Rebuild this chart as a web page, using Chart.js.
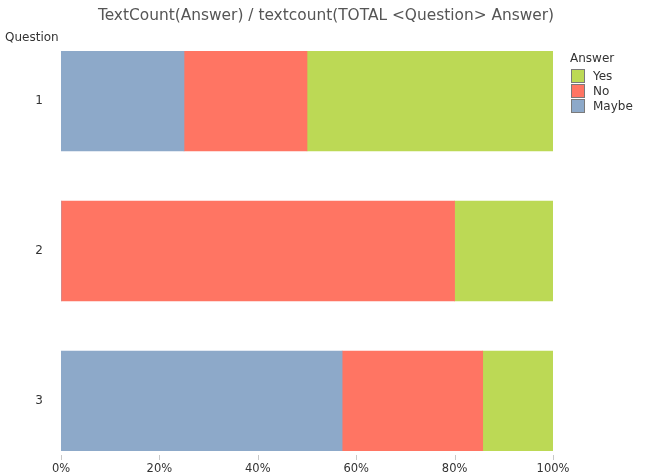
<!DOCTYPE html>
<html>
<head>
<meta charset="utf-8">
<script src="https://cdn.jsdelivr.net/npm/chart.js@4/dist/chart.umd.min.js"></script>
<style>
  html, body { margin: 0; padding: 0; background: #fff; }
  #wrap { position: relative; width: 651px; height: 475px; }
  #legend { position: absolute; left: 570px; top: 51px; font: 12px "DejaVu Sans", sans-serif; color: #333; }
  #legend .t { margin-bottom: 3px; line-height: 14px; }
  #legend .row { display: flex; align-items: center; height: 15px; }
  #legend .box { width: 14px; height: 14px; border: 1px solid #7a7a7a; box-sizing: border-box; margin-left: 1px; margin-right: 8px; }
</style>
</head>
<body>
<div id="wrap">
  <canvas id="c" width="651" height="475"></canvas>
  <div id="legend"></div>
</div>
<script>
const chartTitle = "TextCount(Answer) / textcount(TOTAL <Question> Answer)";
const axisTitle = "Question";
const legendTitle = "Answer";
const questions = [1, 2, 3];
const seriesNames = ["Maybe", "No", "Yes"];
const maybeValues = [25, 0, 57.14];
const noValues = [25, 80, 28.57];
const yesValues = [50, 20, 14.29];
const xTicks = [0, 20, 40, 60, 80, 100];
const colors = { Maybe: "#8DA9C9", No: "#FF7563", Yes: "#BCD955" };

const valueSets = { Maybe: maybeValues, No: noValues, Yes: yesValues };
const datasets = seriesNames.map(name => ({
  label: name,
  data: questions.map((q, i) => ({ x: valueSets[name][i], y: q })),
  backgroundColor: colors[name],
  borderWidth: 0,
  barThickness: 100
}));

// HTML legend (Yes, No, Maybe order)
const lg = document.getElementById('legend');
let html = '<div class="t">' + legendTitle + '</div>';
["Yes", "No", "Maybe"].forEach(n => {
  html += '<div class="row"><div class="box" style="background:' + colors[n] + '"></div><span>' + n + '</span></div>';
});
lg.innerHTML = html;

const textPlugin = {
  id: 'texts',
  afterDraw(chart) {
    const ctx = chart.ctx;
    ctx.save();
    ctx.fillStyle = '#555';
    ctx.font = '15.4px "DejaVu Sans"';
    ctx.textAlign = 'center';
    ctx.textBaseline = 'middle';
    ctx.fillText(chartTitle, 326, 16);
    ctx.fillStyle = '#333';
    ctx.font = '12px "DejaVu Sans"';
    ctx.textAlign = 'left';
    ctx.fillText(axisTitle, 5, 38);
    // x tick marks
    const xs = chart.scales.x;
    ctx.strokeStyle = '#c8c8c8';
    ctx.lineWidth = 1;
    xTicks.forEach(v => {
      const px = Math.round(xs.getPixelForValue(v)) + 0.5;
      ctx.beginPath();
      ctx.moveTo(px, 455);
      ctx.lineTo(px, 460);
      ctx.stroke();
    });
    ctx.restore();
  }
};

new Chart(document.getElementById('c'), {
  type: 'bar',
  data: { datasets },
  options: {
    responsive: false,
    animation: false,
    indexAxis: 'y',
    layout: { padding: { top: 51, right: 98, left: 0, bottom: 0 } },
    plugins: { legend: { display: false }, tooltip: { enabled: false }, title: { display: false } },
    scales: {
      x: {
        type: 'linear',
        stacked: true,
        min: 0, max: 100,
        bounds: 'data',
        afterBuildTicks: s => { s.ticks = xTicks.map(v => ({ value: v })); },
        grid: { display: false },
        border: { display: false },
        ticks: { padding: 3, color: '#333', font: { family: 'DejaVu Sans', size: 11.5 }, callback: v => v + '%' },
        afterFit: s => { s.height = 24; }
      },
      y: {
        type: 'linear',
        stacked: true,
        reverse: true,
        bounds: 'data',
        offset: false,
        min: 2 / 3, max: 10 / 3,
        afterDataLimits: s => { s.min = 2 / 3; s.max = 10 / 3; },
        afterBuildTicks: s => { s.ticks = questions.map(v => ({ value: v })); },
        grid: { display: false, offset: false },
        border: { display: false },
        ticks: { padding: 10, color: '#333', font: { family: 'DejaVu Sans', size: 12 } },
        afterFit: s => { s.width = 61; }
      }
    }
  },
  plugins: [textPlugin]
});
</script>
</body>
</html>
